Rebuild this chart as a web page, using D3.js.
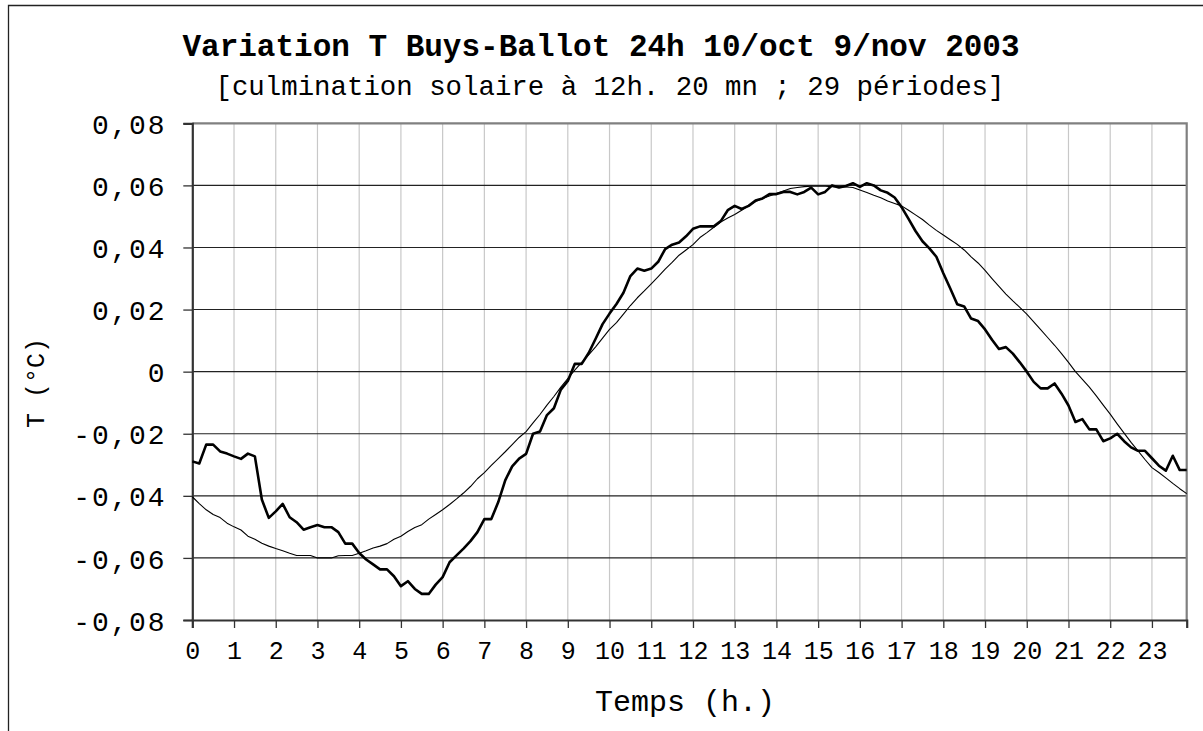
<!DOCTYPE html>
<html><head><meta charset="utf-8">
<script src="https://cdn.jsdelivr.net/npm/d3@7"></script>
<style>
html,body{margin:0;padding:0;background:#fff;}
svg{display:block;}
text{font-family:"Liberation Mono","Courier New",monospace;fill:#000;}
</style></head><body>
<svg id="c" width="1203" height="731"></svg>
<script>
// ---- data (10-minute steps, 0h00 .. 23h50) ----
const hours = d3.range(144).map(i => i / 6);
const measured = [
 -0.0289,-0.0296,-0.0235,-0.0235,-0.0257,-0.0264,
 -0.0273,-0.0281,-0.0264,-0.0273,-0.0412,-0.0471,
 -0.0450,-0.0426,-0.0469,-0.0485,-0.0509,-0.0501,
 -0.0494,-0.0501,-0.0501,-0.0517,-0.0554,-0.0554,
 -0.0584,-0.0605,-0.0621,-0.0637,-0.0637,-0.0659,
 -0.0691,-0.0675,-0.0700,-0.0716,-0.0716,-0.0686,
 -0.0662,-0.0614,-0.0592,-0.0570,-0.0546,-0.0517,
 -0.0475,-0.0475,-0.0420,-0.0350,-0.0305,-0.0280,
 -0.0265,-0.0200,-0.0193,-0.0140,-0.0118,-0.0058,
 -0.0030, 0.0025, 0.0025, 0.0060, 0.0106, 0.0153,
  0.0187, 0.0218, 0.0254, 0.0308, 0.0332, 0.0325,
  0.0332, 0.0354, 0.0395, 0.0409, 0.0416, 0.0436,
  0.0460, 0.0468, 0.0468, 0.0468, 0.0485, 0.0520,
  0.0534, 0.0524, 0.0534, 0.0551, 0.0558, 0.0572,
  0.0572, 0.0579, 0.0579, 0.0571, 0.0579, 0.0593,
  0.0571, 0.0579, 0.0600, 0.0593, 0.0598, 0.0607,
  0.0595, 0.0607, 0.0600, 0.0584, 0.0576, 0.0561,
  0.0530, 0.0492, 0.0453, 0.0420, 0.0397, 0.0370,
  0.0317, 0.0268, 0.0217, 0.0210, 0.0171, 0.0163,
  0.0136, 0.0103, 0.0073, 0.0079, 0.0058, 0.0030,
  0.0000,-0.0033,-0.0054,-0.0054,-0.0038,-0.0071,
 -0.0109,-0.0162,-0.0153,-0.0186,-0.0186,-0.0224,
 -0.0215,-0.0200,-0.0224,-0.0244,-0.0255,-0.0255,
 -0.0279,-0.0303,-0.0319,-0.0271,-0.0317,-0.0317
];
const fitted = [
 -0.0403,-0.0425,-0.0445,-0.0460,-0.0470,-0.0488,
 -0.0500,-0.0510,-0.0530,-0.0540,-0.0553,-0.0562,
 -0.0570,-0.0577,-0.0585,-0.0592,-0.0592,-0.0592,
 -0.0600,-0.0600,-0.0600,-0.0593,-0.0592,-0.0592,
 -0.0585,-0.0577,-0.0568,-0.0562,-0.0554,-0.0540,
 -0.0530,-0.0515,-0.0502,-0.0493,-0.0475,-0.0460,
 -0.0445,-0.0428,-0.0410,-0.0391,-0.0370,-0.0345,
 -0.0325,-0.0302,-0.0280,-0.0258,-0.0235,-0.0212,
 -0.0193,-0.0165,-0.0138,-0.0108,-0.0080,-0.0050,
 -0.0022, 0.0005, 0.0030, 0.0054, 0.0080, 0.0108,
  0.0136, 0.0158, 0.0185, 0.0213, 0.0238, 0.0260,
  0.0283, 0.0306, 0.0330, 0.0352, 0.0375, 0.0392,
  0.0409, 0.0432, 0.0448, 0.0465, 0.0482, 0.0495,
  0.0506, 0.0520, 0.0535, 0.0548, 0.0558, 0.0566,
  0.0574, 0.0582, 0.0590, 0.0593, 0.0596, 0.0597,
  0.0597, 0.0597, 0.0596, 0.0595, 0.0595, 0.0593,
  0.0585, 0.0577, 0.0568, 0.0560, 0.0550, 0.0542,
  0.0534, 0.0520, 0.0505, 0.0490, 0.0472, 0.0455,
  0.0440, 0.0425, 0.0410, 0.0392, 0.0370, 0.0350,
  0.0326, 0.0300, 0.0275, 0.0250, 0.0228, 0.0207,
  0.0185, 0.0160, 0.0135, 0.0110, 0.0085, 0.0058,
  0.0030, 0.0000,-0.0025,-0.0050,-0.0078,-0.0108,
 -0.0137,-0.0168,-0.0198,-0.0228,-0.0255,-0.0283,
 -0.0309,-0.0325,-0.0342,-0.0360,-0.0377,-0.0393
];
const xTicks = d3.range(0, 24);
const yTicks = [-0.08,-0.06,-0.04,-0.02,0,0.02,0.04,0.06,0.08];
const title = "Variation T Buys-Ballot 24h 10/oct 9/nov 2003";
const subtitle = "[culmination solaire à 12h. 20 mn ; 29 périodes]";
const xTitle = "Temps (h.)";
const yTitle = "T (°C)";

// ---- layout ----
const svg = d3.select("#c");
const L = 192.3, R = 1186.7, T = 123.3, B = 620;
const x = d3.scaleLinear().domain([0, hours[hours.length-1]]).range([L, R]);
const y = d3.scaleLinear().domain([-0.08, 0.08]).range([B, T]);
const fmt = v => v === 0 ? "0" : d3.format(".2f")(v).replace(".", ",").replace("−","-");

// outer frame (left + top)
svg.append("path").attr("d", "M8.5,731 L8.5,5.5 L1203,5.5")
  .attr("fill","none").attr("stroke","#222").attr("stroke-width",1.3);

// vertical grid
svg.append("g").selectAll("line").data(xTicks.filter(d => d > 0)).join("line")
  .attr("x1", d => x(d)).attr("x2", d => x(d)).attr("y1", T).attr("y2", B)
  .attr("stroke", "#c8c8c8").attr("stroke-width", 1.2);
// horizontal grid
svg.append("g").selectAll("line").data(yTicks.filter(d => d > -0.08 && d < 0.08)).join("line")
  .attr("x1", L).attr("x2", R).attr("y1", d => y(d)).attr("y2", d => y(d))
  .attr("stroke", "#222").attr("stroke-width", 1.1);
// top & right borders (grey)
svg.append("path").attr("d", `M${L},${T} L${R},${T} L${R},${B}`)
  .attr("fill","none").attr("stroke","#808080").attr("stroke-width",2.2);

// axes
const yAxis = d3.axisLeft(y).tickValues(yTicks).tickFormat(fmt).tickSize(9).tickPadding(17);
const gy = svg.append("g").attr("transform", `translate(${L},0)`).call(yAxis);
gy.select(".domain").attr("stroke","#333").attr("stroke-width",2.2);
gy.selectAll(".tick line").attr("stroke","#333").attr("stroke-width",1.3);
gy.selectAll(".tick text").attr("font-family","Liberation Mono").attr("font-size",28)
  .attr("letter-spacing", 1.8).attr("fill","#000").attr("dy","0.36em");

const xAxis = d3.axisBottom(x).tickValues(xTicks).tickFormat(d3.format("d")).tickSize(8).tickPadding(13);
const gx = svg.append("g").attr("transform", `translate(0,${B})`).call(xAxis);
gx.select(".domain").attr("stroke","#333").attr("stroke-width",2.2);
gx.selectAll(".tick line").attr("stroke","#333").attr("stroke-width",1.3);
gx.selectAll(".tick text").attr("font-family","Liberation Mono").attr("font-size",25).attr("fill","#000");

// lines
const line = d3.line().x((d,i) => x(hours[i])).y(d => y(d));
svg.append("path").datum(fitted).attr("d", line).attr("fill","none")
  .attr("stroke","#000").attr("stroke-width",1.1).attr("stroke-linejoin","round");
svg.append("path").datum(measured).attr("d", line).attr("fill","none")
  .attr("stroke","#000").attr("stroke-width",2.6).attr("stroke-linejoin","round");

// titles
svg.append("text").attr("x", 601).attr("y", 56).attr("text-anchor","middle")
  .attr("font-size", 31).attr("font-weight","bold").text(title);
svg.append("text").attr("x", 610).attr("y", 95).attr("text-anchor","middle")
  .attr("font-size", 27.4).text(subtitle);
svg.append("text").attr("x", 685).attr("y", 711).attr("text-anchor","middle")
  .attr("font-size", 30).text(xTitle);
svg.append("text").attr("transform","translate(44,383) rotate(-90)").attr("text-anchor","middle")
  .attr("font-size", 25).text(yTitle);
</script>
</body></html>
